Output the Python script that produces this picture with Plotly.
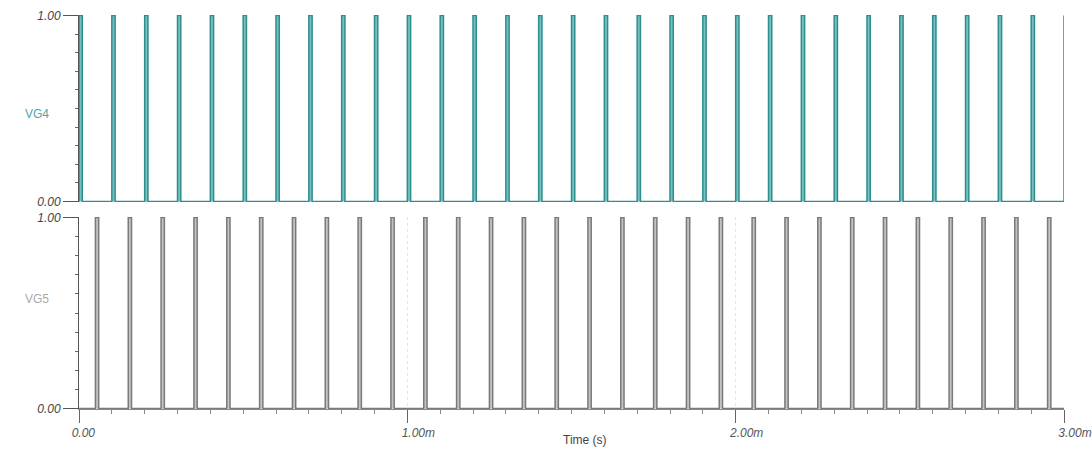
import plotly.graph_objects as go

# ---- data (time in ms) ----
vg4_rise_ms = [0.000, 0.100, 0.200, 0.300, 0.400, 0.500, 0.600, 0.700, 0.800, 0.900,
               1.000, 1.100, 1.200, 1.300, 1.400, 1.500, 1.600, 1.700, 1.800, 1.900,
               2.000, 2.100, 2.200, 2.300, 2.400, 2.500, 2.600, 2.700, 2.800, 2.900, 3.000]
vg5_rise_ms = [0.050, 0.150, 0.250, 0.350, 0.450, 0.550, 0.650, 0.750, 0.850, 0.950,
               1.050, 1.150, 1.250, 1.350, 1.450, 1.550, 1.650, 1.750, 1.850, 1.950,
               2.050, 2.150, 2.250, 2.350, 2.450, 2.550, 2.650, 2.750, 2.850, 2.950]
pulse_width_ms = 0.010
t_end_ms = 3.0
v_low, v_high = 0.0, 1.0

x_tickvals = [0, 1, 2, 3]
x_ticktext = ["0.00\u00a0\u00a0\u00a0\u00a0", "1.00m", "2.00m", "3.00m"]
y_tickvals = [0, 1]
y_ticktext = ["0.00", "1.00"]


def waveform(rises):
    xs, ys = [0.0], [v_low]
    for t in rises:
        t2 = min(t + pulse_width_ms, t_end_ms)
        xs += [t, t]
        ys += [v_low, v_high]
        if t2 > t:
            xs += [t2, t2]
            ys += [v_high, v_low]
    if xs[-1] < t_end_ms:
        xs.append(t_end_ms)
        ys.append(ys[-1])
    return xs, ys


x4, y4 = waveform(vg4_rise_ms)
x5, y5 = waveform(vg5_rise_ms)

fig = go.Figure()
fig.add_trace(go.Scatter(x=x4, y=y4, mode="lines", fill="tozeroy",
                         fillcolor="rgba(120,192,192,1)",
                         line=dict(color="#2e8e8e", width=1.5),
                         xaxis="x", yaxis="y", showlegend=False, hoverinfo="skip"))
fig.add_trace(go.Scatter(x=x5, y=y5, mode="lines", fill="tozeroy",
                         fillcolor="rgba(195,195,195,1)",
                         line=dict(color="#7a7a7a", width=1.5),
                         xaxis="x2", yaxis="y2", showlegend=False, hoverinfo="skip"))

tickfont = dict(family="Liberation Sans, Arial, sans-serif", size=12, color="#444", style="italic")

common_y = dict(range=[-0.003, 1.003], tickvals=y_tickvals, ticktext=y_ticktext,
                ticks="outside", ticklen=15, tickcolor="#555", tickwidth=1,
                showline=True, linecolor="#555", linewidth=1,
                showgrid=True, gridcolor="#dcdcdc", gridwidth=1, zeroline=False,
                tickfont=tickfont, automargin=False, fixedrange=True,
                minor=dict(dtick=0.1, ticks="outside", ticklen=3, tickcolor="#666",
                           showgrid=False))
common_x = dict(range=[0, t_end_ms], zeroline=False, automargin=False,
                showgrid=True, gridcolor="#e4e4e4", griddash="dot", gridwidth=1)

fig.update_layout(
    width=1092, height=457,
    margin=dict(l=79, r=28, t=15, b=48),
    paper_bgcolor="white", plot_bgcolor="white",
    font=dict(family="Liberation Sans, Arial, sans-serif", size=12, color="#444"),
    xaxis=dict(domain=[0, 1], anchor="y", showticklabels=False, ticks="",
               showline=False, **common_x),
    yaxis=dict(domain=[207 / 394, 1], anchor="x", **common_y),
    xaxis2=dict(domain=[0, 1], anchor="y2", matches="x",
                tickvals=x_tickvals, ticktext=x_ticktext, ticklabelshift=11,
                ticks="outside", ticklen=13, tickcolor="#666",
                showline=True, linecolor="#888", linewidth=1,
                tickfont=dict(family="Liberation Sans, Arial, sans-serif", size=12,
                              color="#555", style="italic"),
                minor=dict(dtick=0.1, ticks="outside", ticklen=4, tickcolor="#888",
                           showgrid=False),
                **common_x),
    yaxis2=dict(domain=[0, 192 / 394], anchor="x2", **common_y),
    showlegend=False,
)

# mid (0.5) ticks slightly longer
for yref in ["y", "y2"]:
    fig.add_shape(type="line", xref="x", yref=yref, xsizemode="pixel", xanchor=0,
                  x0=-6, x1=0, y0=0.5, y1=0.5, line=dict(color="#555", width=1))

fig.add_annotation(text="VG4", xref="paper", yref="paper", x=(23 - 79) / 985,
                   y=(409 - 105) / 394, showarrow=False,
                   font=dict(size=12, color="#4aa6a6"))
fig.add_annotation(text="VG5", xref="paper", yref="paper", x=(23 - 79) / 985,
                   y=(409 - 308) / 394, showarrow=False,
                   font=dict(size=12, color="#aaaaaa"))
fig.add_annotation(text="Time (s)", xref="paper", yref="paper", x=(585 - 79) / 985,
                   y=-(449 - 409) / 394, showarrow=False,
                   font=dict(size=12, color="#444"))

fig.write_html("out.html", config={"displayModeBar": False},
               post_script="document.body.style.margin='0';")
